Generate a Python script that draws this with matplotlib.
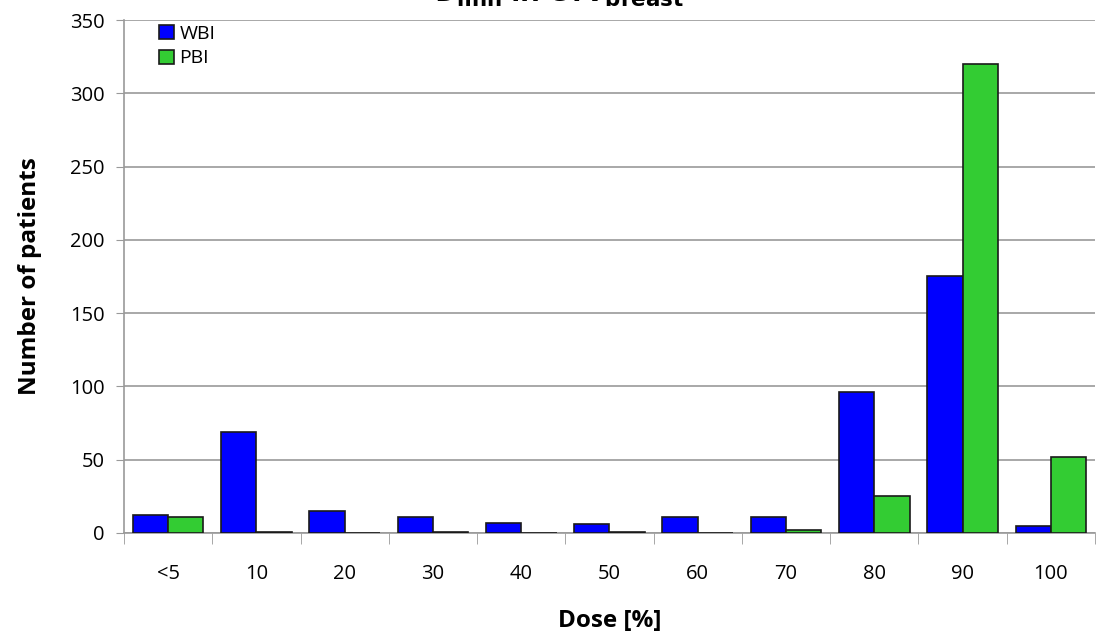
import numpy as np
import matplotlib
matplotlib.use("Agg")
import matplotlib.pyplot as plt

# Datos
categorias = ["<5", "10", "20", "30", "40", "50", "60", "70", "80", "90", "100"]
wbi = [12, 69, 15, 11, 7, 6, 11, 11, 96, 175, 5]
pbi = [11, 1, 0, 1, 0, 1, 0, 2, 25, 320, 52]

plt.rcParams['font.family'] = ['Open Sans', 'DejaVu Sans']

fig = plt.figure(figsize=(10.96, 6.37), dpi=100)
ax = fig.add_axes([0.1131, 0.1633, 0.8860, 0.8053])

x = np.arange(len(categorias))
ancho = 0.4
ax.bar(x - ancho / 2, wbi, ancho, color="#0000ff", edgecolor="#1a1a1a", linewidth=1.2, label="WBI", zorder=3)
ax.bar(x + ancho / 2, pbi, ancho, color="#33cc33", edgecolor="#1a1a1a", linewidth=1.2, label="PBI", zorder=3)

ax.set_xlim(-0.5, len(categorias) - 0.5)
ax.set_ylim(0, 350)
ax.set_yticks(range(0, 351, 50))
ax.set_xticks(x)
ax.set_xticklabels(categorias)
ax.set_xticks(np.arange(-0.5, len(categorias), 1), minor=True)
ax.tick_params(axis="x", which="major", length=0, pad=22, labelsize=14.5)
ax.tick_params(axis="x", which="minor", length=8, color="#999999", direction="out")
ax.tick_params(axis="y", length=6, color="#999999", labelsize=14.5, pad=8)

ax.grid(axis="y", color="#999999", linewidth=1.2, zorder=0)
for lado in ["top", "right"]:
    ax.spines[lado].set_visible(False)
for lado in ["left", "bottom"]:
    ax.spines[lado].set_color("#999999")
    ax.spines[lado].set_linewidth(1.2)

ax.set_ylabel("Number of patients", fontsize=17.5, fontweight="bold", labelpad=20)
ax.set_xlabel("Dose [%]", fontsize=17.5, fontweight="bold", labelpad=18)

ax.legend(loc="upper left", frameon=False, fontsize=14, handlelength=0.75, handleheight=0.75,
          handletextpad=0.3, labelspacing=0.35, bbox_to_anchor=(0.018, 1.025))

# Título parcialmente recortado en la parte superior, como en el original
fig.text(0.51, 0.997, r"D$_{\mathbf{min}}$ in CTV$_{\mathbf{breast}}$", ha="center", va="baseline",
         fontsize=22, fontweight="bold")

fig.savefig("out.png", dpi=100)
